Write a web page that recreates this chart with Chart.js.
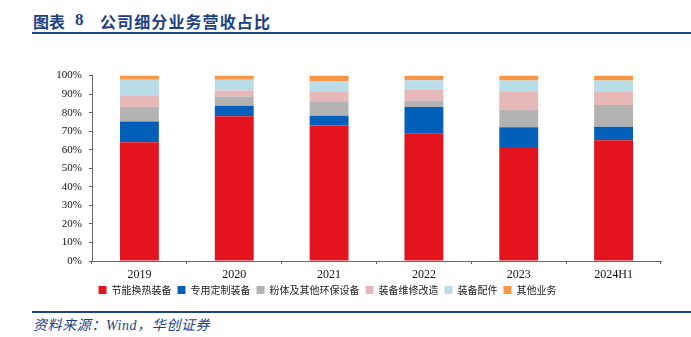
<!DOCTYPE html>
<html>
<head>
<meta charset="utf-8">
<script src="https://cdn.jsdelivr.net/npm/chart.js@4/dist/chart.umd.min.js"></script>
<style>
  html, body { margin: 0; padding: 0; background: #fff; }
  body { width: 691px; height: 337px; position: relative; overflow: hidden; }
  .title { position: absolute; top: 11px; font-family: "Noto Sans CJK SC", sans-serif; font-weight: 700; font-size: 16px; color: #1d3f86; line-height: 20px; white-space: nowrap; }
  .num { font-family: "Liberation Serif", serif; font-size: 17px; }
  .rule { position: absolute; left: 32px; right: 0; background: #1d4585; }
  .source { position: absolute; left: 33px; top: 317px; font-family: "Liberation Serif", "Noto Sans CJK SC", serif; font-style: italic; font-size: 14px; letter-spacing: 0.6px; color: #1d3f86; white-space: nowrap; line-height: 18px; }
  #wrap { position: absolute; left: -6px; top: 62px; width: 697px; height: 249px; }
</style>
</head>
<body>
<div class="title" style="left:33px">图表</div>
<div class="title num" style="left:75px;top:10px;font-weight:700">8</div>
<div class="title" style="left:100px;letter-spacing:1.1px">公司细分业务营收占比</div>
<div class="rule" style="top:32px;height:2px"></div>
<div id="wrap"><canvas id="chart"></canvas></div>
<div class="rule" style="top:311px;height:1.5px"></div>
<div class="source">资料来源：Wind，华创证券</div>
<script>
(() => {
  const years = ["2019", "2020", "2021", "2022", "2023", "2024H1"];
  const seriesNames = ["节能换热装备", "专用定制装备", "粉体及其他环保设备", "装备维修改造", "装备配件", "其他业务"];
  const heatExchange = [64.1, 78.1, 73.1, 68.6, 61.5, 65.1];
  const customEquip = [11.2, 5.6, 5.2, 14.4, 10.7, 7.3];
  const powderEnv = [7.7, 5.0, 7.9, 3.4, 9.5, 11.8];
  const repairRetrofit = [6.0, 3.2, 5.4, 5.9, 9.5, 7.4];
  const parts = [8.7, 5.8, 5.2, 5.2, 6.1, 5.7];
  const otherBiz = [2.3, 2.3, 3.2, 2.5, 2.7, 2.7];
  const yTicks = [0, 10, 20, 30, 40, 50, 60, 70, 80, 90, 100];

  const colors = ["#e3141d", "#035fb9", "#b3b3b3", "#e6b8b7", "#b8dde8", "#f79646"];
  const values = [heatExchange, customEquip, powderEnv, repairRetrofit, parts, otherBiz];

  const axisColor = "#666666";

  new Chart(document.getElementById("chart"), {
    type: "bar",
    data: {
      labels: years,
      datasets: seriesNames.map((name, i) => ({
        label: name,
        data: values[i],
        backgroundColor: colors[i],
        borderWidth: 0,
        barPercentage: 0.41,
        categoryPercentage: 1,
      })),
    },
    options: {
      responsive: true,
      maintainAspectRatio: false,
      animation: false,
      layout: { padding: { left: 0, right: 30, top: 13, bottom: 6 } },
      scales: {
        x: {
          stacked: true,
          grid: { display: true, drawOnChartArea: false, drawTicks: true, tickLength: 3, color: axisColor, offset: true },
          border: { display: true, color: axisColor, width: 1 },
          ticks: { color: "#111", font: { family: "Liberation Serif", size: 12 }, padding: 4, maxRotation: 0 },
          afterFit: (scale) => { scale.height = 18; },
        },
        y: {
          stacked: true,
          min: 0,
          max: 100,
          afterBuildTicks: (scale) => { scale.ticks = yTicks.map((v) => ({ value: v })); },
          grid: { display: true, drawOnChartArea: false, drawTicks: true, tickLength: 3, color: axisColor },
          border: { display: true, color: axisColor, width: 1 },
          ticks: {
            color: "#111",
            font: { family: "Liberation Serif", size: 11 },
            padding: 7,
            callback: (v) => `${v}%`,
          },
          afterFit: (scale) => { scale.width = 98; },
        },
      },
      plugins: {
        legend: {
          display: true,
          position: "bottom",
          labels: {
            boxWidth: 8,
            boxHeight: 8,
            padding: 6,
            color: "#222",
            font: { family: "Noto Sans CJK SC", size: 10 },
          },
        },
        tooltip: { enabled: false },
      },
    },
  });
})();
</script>
</body>
</html>
